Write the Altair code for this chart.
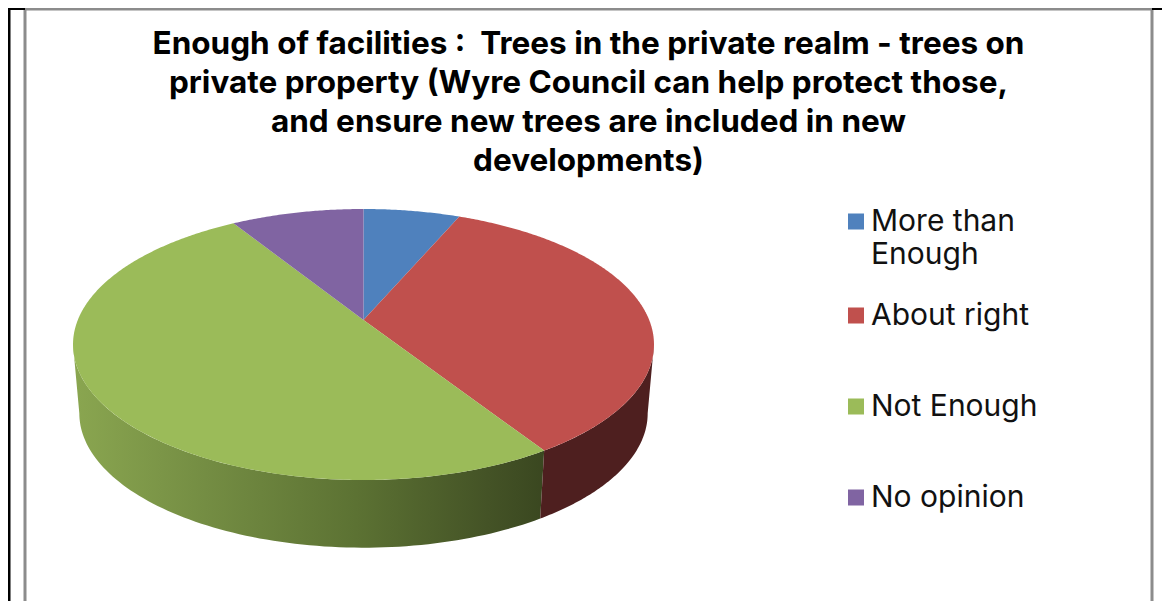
import numpy as np
import pandas as pd
import altair as alt

TITLE = ["Enough of facilities :\u00a0 Trees in the private realm - trees on",
         "private property (Wyre Council can help protect those,",
         "and ensure new trees are included in new",
         "developments)"]
categories = ["More than Enough", "About right", "Not Enough", "No opinion"]
shares = [6.4, 34.6, 50.2, 8.8]
colors = ["#4f81bd", "#c0504d", "#9bbb59", "#8064a2"]

FONT = "Inter"
K = 0.1808


def rim(t_deg, cx, cy, a, b):
    t = np.radians(t_deg)
    X, Y = np.sin(t), np.cos(t)
    return cx + a * X / (1 + K * Y), cy - b * Y / (1 + K * Y)


top = dict(cx=363.5, cy=320, a=285.7, b=131.07)
low = dict(cx=363.5, cy=389, a=279.5, b=130)

edges = np.concatenate([[0], np.cumsum(shares)]) * 3.6
rows = []
for cat, t0, t1 in zip(categories, edges[:-1], edges[1:]):
    ts = np.linspace(t0, t1, max(3, int(t1 - t0) * 2))
    xs, ys = rim(ts, **top)
    pts = [(top["cx"], top["cy"])] + list(zip(xs, ys))
    rows += [dict(cat=cat, i=i, x=p[0], y=p[1]) for i, p in enumerate(pts)]
faces = pd.DataFrame(rows)


def wall(t0, t1):
    ts = np.linspace(t0, t1, 90)
    xa, ya = rim(ts, **top)
    xb, yb = rim(ts[::-1], **low)
    return pd.DataFrame({"x": np.r_[xa, xb], "y": np.r_[ya, yb],
                         "i": np.arange(180)})


side = 180 + np.degrees(np.arccos(K))
XS = alt.Scale(domain=[8, 1162])
YS = alt.Scale(domain=[601, 8])
xenc = alt.X("x:Q", scale=XS, axis=None)
yenc = alt.Y("y:Q", scale=YS, axis=None)

green_wall = alt.Gradient(
    gradient="linear", x1=0, x2=1, y1=0, y2=0,
    stops=[alt.GradientStop(offset=0, color="#8aa650"),
           alt.GradientStop(offset=0.28, color="#748d43"),
           alt.GradientStop(offset=0.6, color="#5c7233"),
           alt.GradientStop(offset=0.88, color="#445326"),
           alt.GradientStop(offset=1, color="#3a4720")])

w_green = alt.Chart(wall(edges[2], side)).mark_line(
    filled=True, fill=green_wall, strokeWidth=0
).encode(x=xenc, y=yenc, order="i:Q")
w_red = alt.Chart(wall(180 - np.degrees(np.arccos(K)), edges[2])).mark_line(
    filled=True, fill="#4e1f1f", strokeWidth=0
).encode(x=xenc, y=yenc, order="i:Q")

top_faces = alt.Chart(faces).mark_line(filled=True, strokeWidth=0).encode(
    x=xenc, y=yenc, order="i:Q",
    color=alt.Color(
        "cat:N", sort=categories,
        scale=alt.Scale(domain=categories, range=colors),
        legend=alt.Legend(
            orient="none", legendX=833, legendY=168, title=None, padding=0,
            symbolType="square", symbolSize=256, symbolStrokeWidth=0,
            labelFont=FONT, labelFontSize=30, labelColor="#111111", labelLimit=400,
            labelOffset=0, clipHeight=91, rowPadding=0,
            labelExpr="datum.label == 'More than Enough' ? ['More than', 'Enough'] : datum.label",
        ),
    ),
)

vlines = pd.DataFrame({"x": [9, 25, 1152], "y": [8, 8, 8], "y2": [601, 601, 601],
                       "c": ["#000000", "#8c8c8c", "#8c8c8c"], "w": [3, 3, 3]})
hlines = pd.DataFrame({"x": [8, 25, 1152], "x2": [25, 1152, 1162], "y": [9, 9, 9],
                       "c": ["#000000", "#8c8c8c", "#000000"], "w": [2, 3, 2]})
v = alt.Chart(vlines).mark_rule().encode(
    x=xenc, y=yenc, y2="y2:Q",
    color=alt.Color("c:N", scale=None), strokeWidth=alt.StrokeWidth("w:Q", scale=None))
h = alt.Chart(hlines).mark_rule().encode(
    x=xenc, x2="x2:Q", y=yenc,
    color=alt.Color("c:N", scale=None), strokeWidth=alt.StrokeWidth("w:Q", scale=None))

chart = (
    alt.layer(v, h, w_green, w_red, top_faces)
    .properties(
        width=1154, height=593, padding=0,
        autosize=alt.AutoSizeParams(type="none"),
        title=alt.TitleParams(
            text=TITLE, font=FONT, fontSize=31.5, fontWeight="bold", color="#000000",
            anchor="middle", lineHeight=39, dx=3.5, dy=171, offset=0),
    )
    .configure_view(stroke=None)
    .configure(style={"guide-label": {"lineHeight": 33.5}})
)

chart.save("out.html", embed_options={"renderer": "svg", "actions": False})
